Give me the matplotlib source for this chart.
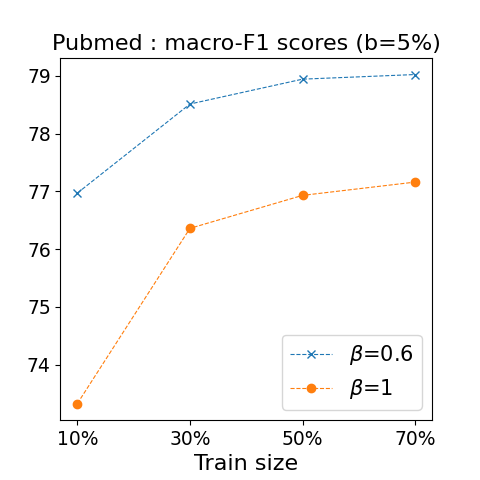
import matplotlib
matplotlib.use('Agg')
import matplotlib.pyplot as plt

train_sizes = ['10%', '30%', '50%', '70%']
f1_beta06 = [76.97, 78.51, 78.94, 79.02]
f1_beta1 = [73.33, 76.36, 76.93, 77.16]

fig = plt.figure(figsize=(4.8, 4.8), dpi=100)
ax = fig.add_subplot(111)
ax.plot(train_sizes, f1_beta06, linestyle='--', linewidth=0.8, marker='x', markersize=6, label=r'$\beta$=0.6')
ax.plot(train_sizes, f1_beta1, linestyle='--', linewidth=0.8, marker='o', markersize=6, label=r'$\beta$=1')
ax.set_title('Pubmed : macro-F1 scores (b=5%)', fontsize=16)
ax.set_xlabel('Train size', fontsize=16)
ax.tick_params(labelsize=13.5)
ax.legend(fontsize=15, loc='lower right')
plt.subplots_adjust(left=0.126, right=0.9, bottom=0.125, top=0.879)
plt.savefig('out.png')
